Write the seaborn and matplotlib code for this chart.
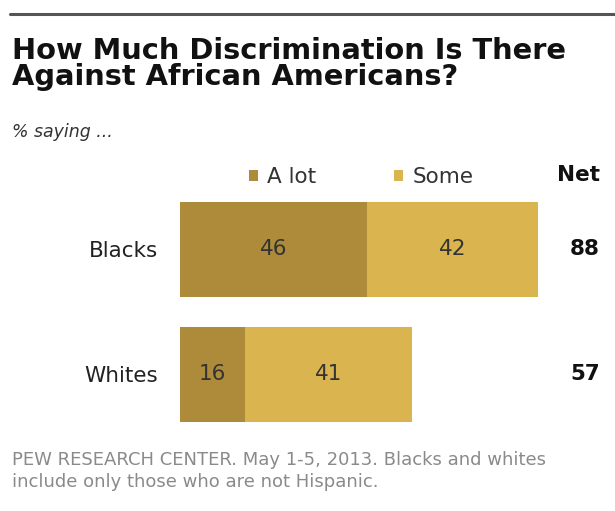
import matplotlib
matplotlib.use('Agg')
import matplotlib.pyplot as plt
from matplotlib.lines import Line2D
from matplotlib.transforms import blended_transform_factory
import seaborn as sns
import pandas as pd

# data
groups = ['Blacks', 'Whites']
a_lot = [46, 16]
some = [42, 41]
net = [88, 57]

dark = '#AE8B3A'
light = '#D9B44F'

df = pd.DataFrame({'group': groups, 'a_lot': a_lot, 'some': some, 'net': net})

sns.set_style('white')
plt.rcParams['font.family'] = ['DejaVu Sans']

W, H = 615, 511
fig = plt.figure(figsize=(W / 100, H / 100), dpi=100)

# axes placed in pixel terms: bars start at x=180, ~4.07 px per point
ax = fig.add_axes([180 / W, 1 - 436.5 / H, 435 / W, 249.4 / H])

# stacked bars: total first (light), then "A lot" on top (dark)
sns.barplot(data=df, x='net', y='group', color=light, width=0.76,
            saturation=1, orient='h', label='Some', linewidth=0, ax=ax)
sns.barplot(data=df, x='a_lot', y='group', color=dark, width=0.76,
            saturation=1, orient='h', label='A lot', linewidth=0, ax=ax)
if ax.get_legend() is not None:
    ax.get_legend().remove()

ax.set_xlim(0, 435 / 4.07)
ax.set_ylim(1.5, -0.5)
ax.set_xlabel('')
ax.set_ylabel('')
ax.set_xticks([])
sns.despine(ax=ax, left=True, bottom=True)
ax.tick_params(axis='y', length=0, pad=16, labelsize=15.5, labelcolor='#222222')

# value labels inside segments, net on the right
for i, row in df.iterrows():
    ax.text(row['a_lot'] / 2, i, str(row['a_lot']), ha='center', va='center',
            fontsize=15.5, color='#333333')
    ax.text(row['a_lot'] + row['some'] / 2, i, str(row['some']), ha='center',
            va='center', fontsize=15.5, color='#333333')
    ax.text(103.2, i, str(row['net']), ha='right', va='center',
            fontsize=15.5, fontweight='bold', color='#111111')

trans = blended_transform_factory(ax.transData, fig.transFigure)
ax.text(103.2, 1 - 181 / H, 'Net', transform=trans, ha='right', va='baseline',
        fontsize=15.5, fontweight='bold', color='#111111')

# legend, A lot first
handles, labels = ax.get_legend_handles_labels()
order = [labels.index('A lot'), labels.index('Some')]
leg = fig.legend([handles[k] for k in order], [labels[k] for k in order],
                 loc='center left', bbox_to_anchor=(249 / W, 1 - 177 / H),
                 ncol=2, frameon=False, fontsize=15.5, handlelength=0.4,
                 handleheight=0.4, handletextpad=0.45, columnspacing=3.6,
                 borderpad=0, borderaxespad=0)
for t in leg.get_texts():
    t.set_color('#333333')

# top rule
fig.add_artist(Line2D([10 / W, 1], [1 - 14 / H, 1 - 14 / H], color='#555555', lw=2.2))

# title and subtitle
fig.text(12 / W, 1 - 59 / H, 'How Much Discrimination Is There', fontsize=20.8,
         fontweight='bold', color='#111111', va='baseline')
fig.text(12 / W, 1 - 85 / H, 'Against African Americans?', fontsize=20.8,
         fontweight='bold', color='#111111', va='baseline')
fig.text(12 / W, 1 - 137 / H, '% saying ...', fontsize=12.5, style='italic',
         color='#333333', va='baseline')

# footer
fig.text(12 / W, 1 - 465 / H, 'PEW RESEARCH CENTER. May 1-5, 2013. Blacks and whites',
         fontsize=13, color='#8a8a8a', va='baseline')
fig.text(12 / W, 1 - 487 / H, 'include only those who are not Hispanic.',
         fontsize=13, color='#8a8a8a', va='baseline')

fig.savefig('out.png', dpi=100)
